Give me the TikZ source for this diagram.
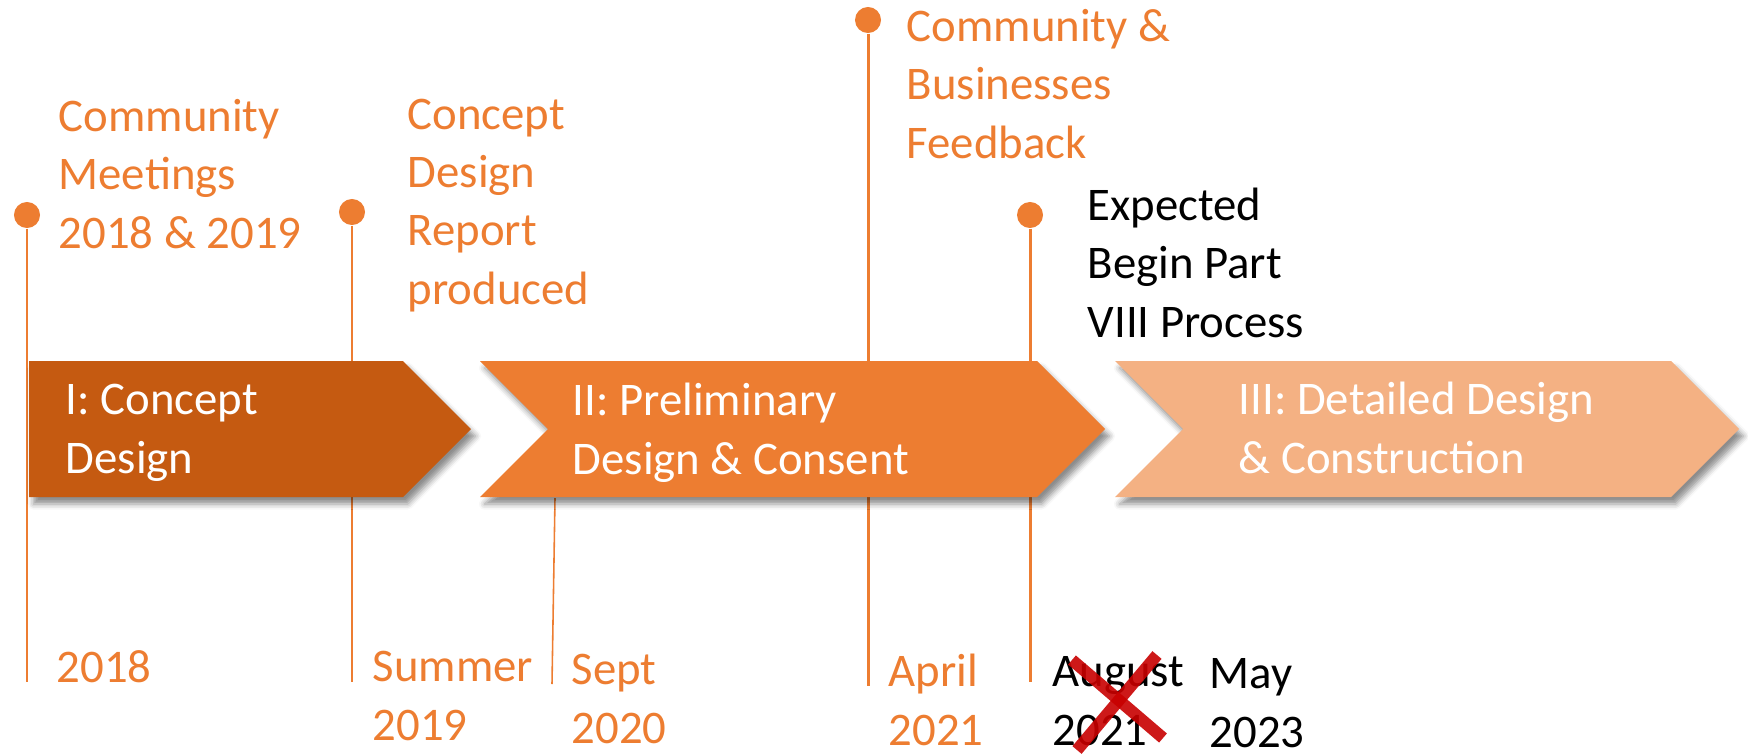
\documentclass[tikz,border=0pt]{standalone}
\usepackage{fontspec}
\setmainfont{Carlito}
\usetikzlibrary{shadows.blur}
\definecolor{darkorange}{HTML}{C55A11}
\definecolor{midorange}{HTML}{ED7D31}
\definecolor{paleorange}{HTML}{F4B183}
\definecolor{crossred}{HTML}{C80000}
\tikzset{
	label text/.style={anchor=base west, inner sep=0, align=left, font=\fontsize{13.3}{16.5}\selectfont},
	orange text/.style={label text, text=midorange},
	black text/.style={label text, text=black},
	phase text/.style={label text, text=white},
	stem/.style={line width=0.85pt, color=midorange},
	dot/.style={circle, fill=midorange, inner sep=0, minimum size=7.4pt},
	phase shadow/.style={blur shadow={shadow xshift=1.3pt, shadow yshift=-2pt, shadow blur radius=1.6pt, shadow opacity=45}}
}
\def\chevron[#1](#2:#3:#4){\fill[#1, phase shadow] (#2,361) -- (#4,361) -- ({#4+68},429) -- (#4,497) -- (#2,497) -- ({#2+#3},429) -- cycle;}

\begin{document}
\begin{tikzpicture}[x=0.01cm, y=-0.01cm]
			%%%%% START %%%%%
			\useasboundingbox (0,0) rectangle (1748,754);
			
			\node[dot] (d1) at (27,215) {};
			\node[dot] (d2) at (352,212) {};
			\node[dot] (d4) at (868,20) {};
			\node[dot] (d5) at (1030,215) {};
			\coordinate (e1) at (27,682);
			\coordinate (e2) at (352,682);
			\coordinate (e4) at (868,686);
			\coordinate (e5) at (1030,682);
			\coordinate (s1) at (555,498);
			\coordinate (s2) at (552,684);
			
			\draw[stem] (d1) -- (e1);
			\draw[stem] (d2) -- (e2);
			\draw[stem] (d4) -- (e4);
			\draw[stem] (d5) -- (e5);
			\draw[stem, line width=0.45pt] (s1) -- (s2);
			
			\chevron[darkorange](29:0:403)
			\chevron[midorange](480:68:1037)
			\chevron[paleorange](1115:68:1671)
			
			% base anchor sits on the last line
			\node[phase text] (phase1) at (65,473) {I: Concept\\Design};
			\node[phase text] (phase2) at (572,474) {II: Preliminary\\Design \& Consent};
			\node[phase text] (phase3) at (1238,473) {III: Detailed Design\\\& Construction};
			
			\node[orange text] (meetings) at (58,248) {Community\\Meetings\\2018 \& 2019};
			\node[orange text] (report) at (407,304) {Concept\\Design\\Report\\produced};
			\node[orange text] (feedback) at (906,158) {Community \&\\Businesses\\Feedback};
			\node[black text] (partviii) at (1087,337) {Expected\\Begin Part\\VIII Process};
			
			\node[orange text] (y2018) at (56,682) {2018};
			\node[orange text] (summer) at (372,740) {Summer\\2019};
			\node[orange text] (sept) at (571,743) {Sept\\2020};
			\node[orange text] (april) at (888,745) {April\\2021};
			\node[black text] (august) at (1052,745) {August\\2021};
			\node[black text] (may) at (1209,747) {May\\2023};
			
			\draw[line width=3.4pt, color=crossred, opacity=0.9] (1072,660) -- (1163,738);
			\draw[line width=3.4pt, color=crossred, opacity=0.9] (1157,655) -- (1077,750);
			
			%%%%% END %%%%%
		\end{tikzpicture}
\end{document}
